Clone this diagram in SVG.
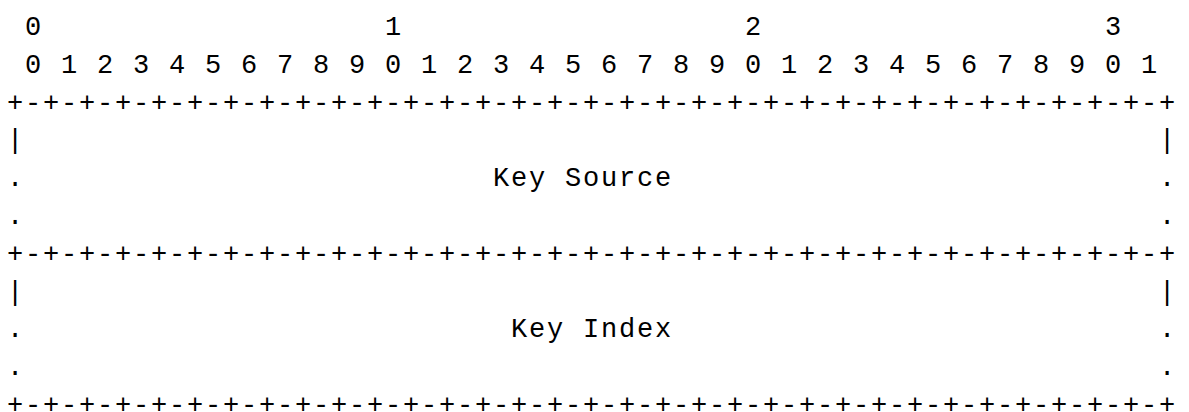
<svg xmlns="http://www.w3.org/2000/svg" width="1189" height="412" viewBox="0 0 1189 412">
<style>
text{font-family:"Liberation Mono","DejaVu Sans Mono",monospace;font-size:27px;fill:#000;white-space:pre;letter-spacing:1.8px}
.c{text-anchor:middle;letter-spacing:0}
</style>
<rect width="1189" height="412" fill="#fff"/>
<g id="header">
<text class="c" x="33" y="35">0</text>
<text class="c" x="393" y="35">1</text>
<text class="c" x="753" y="35">2</text>
<text class="c" x="1113" y="35">3</text>
<text x="24.9" y="72.8">0 1 2 3 4 5 6 7 8 9 0 1 2 3 4 5 6 7 8 9 0 1 2 3 4 5 6 7 8 9 0 1</text>
</g>
<g id="connectors">
<text x="6.9" y="110.6">+-+-+-+-+-+-+-+-+-+-+-+-+-+-+-+-+-+-+-+-+-+-+-+-+-+-+-+-+-+-+-+-+</text>
<text x="6.9" y="261.8">+-+-+-+-+-+-+-+-+-+-+-+-+-+-+-+-+-+-+-+-+-+-+-+-+-+-+-+-+-+-+-+-+</text>
<text x="6.9" y="413">+-+-+-+-+-+-+-+-+-+-+-+-+-+-+-+-+-+-+-+-+-+-+-+-+-+-+-+-+-+-+-+-+</text>
</g>
<g id="key-source">
<text class="c" x="15" y="148.4">|</text>
<text class="c" x="1167" y="148.4">|</text>
<text class="c" x="15" y="186.2">.</text>
<text class="c" x="1167" y="186.2">.</text>
<text x="492.9" y="186.2">Key Source</text>
<text class="c" x="15" y="224">.</text>
<text class="c" x="1167" y="224">.</text>
</g>
<g id="key-index">
<text class="c" x="15" y="299.6">|</text>
<text class="c" x="1167" y="299.6">|</text>
<text class="c" x="15" y="337.4">.</text>
<text class="c" x="1167" y="337.4">.</text>
<text x="510.9" y="337.4">Key Index</text>
<text class="c" x="15" y="375.2">.</text>
<text class="c" x="1167" y="375.2">.</text>
</g>
</svg>
